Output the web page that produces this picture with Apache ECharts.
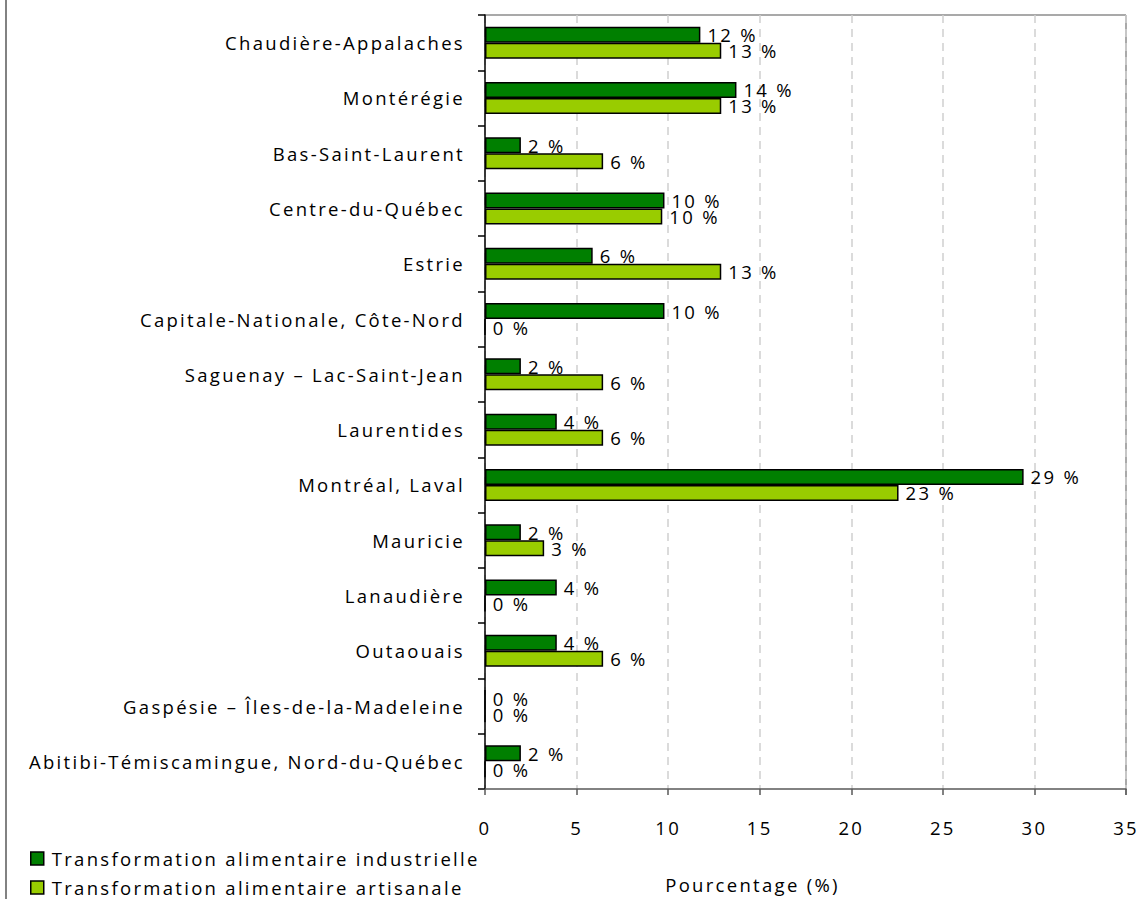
<!DOCTYPE html>
<html>
<head>
<meta charset="utf-8">
<script src="https://cdn.jsdelivr.net/npm/echarts@6/dist/echarts.min.js"></script>
<style>
  html, body { margin: 0; padding: 0; background: #fff; }
  #chart { width: 1143px; height: 899px; }
  /* texte espacé comme dans l'original */
  #chart text { letter-spacing: 2.3px; }
</style>
</head>
<body>
<div id="chart"></div>
<script>
// régions, de haut en bas
const categories = [
  'Chaudière-Appalaches',
  'Montérégie',
  'Bas-Saint-Laurent',
  'Centre-du-Québec',
  'Estrie',
  'Capitale-Nationale, Côte-Nord',
  'Saguenay – Lac-Saint-Jean',
  'Laurentides',
  'Montréal, Laval',
  'Mauricie',
  'Lanaudière',
  'Outaouais',
  'Gaspésie – Îles-de-la-Madeleine',
  'Abitibi-Témiscamingue, Nord-du-Québec'
]
const industrielle = [11.76, 13.73, 1.96, 9.8, 5.88, 9.8, 1.96, 3.92, 29.41, 1.96, 3.92, 3.92, 0, 1.96]
const artisanale = [12.9, 12.9, 6.45, 9.68, 12.9, 0, 6.45, 6.45, 22.58, 3.23, 0, 6.45, 0, 0]
const seriesNames = ['Transformation alimentaire industrielle', 'Transformation alimentaire artisanale']
const colors = ['#007f00', '#99cc00']

const font = 'Open Sans'
const fs = 18.5
const chart = echarts.init(document.getElementById('chart'), null, { renderer: 'svg' })

const pct = (p) => Math.round(p.value) + ' %'

chart.setOption({
  animation: false,
  color: colors,
  textStyle: { fontFamily: font },
  grid: { left: 485, top: 15, right: 17, bottom: 104, containLabel: false },
  legend: {
    orient: 'vertical',
    left: 30,
    top: 849,
    padding: 0,
    itemWidth: 13,
    itemHeight: 13,
    itemGap: 10,
    icon: 'rect',
    textStyle: { fontFamily: font, fontSize: fs, color: '#000', lineHeight: 16, padding: [0, 0, 0, 3] },
    itemStyle: { borderColor: '#000', borderWidth: 1.5 },
    data: seriesNames
  },
  xAxis: {
    type: 'value',
    min: 0,
    max: 35,
    interval: 5,
    name: 'Pourcentage (%)',
    nameLocation: 'middle',
    nameGap: 86,
    nameTextStyle: { fontFamily: font, fontSize: fs, color: '#000', padding: [0, 106, 0, 0] },
    axisLine: { show: true, lineStyle: { color: '#595959', width: 1.5 } },
    axisTick: { show: true, length: 6, lineStyle: { color: '#595959', width: 1.5 } },
    axisLabel: { fontFamily: font, fontSize: fs, color: '#000', margin: 29 },
    splitLine: { show: true, lineStyle: { color: '#d0d0d0', type: [8, 6], width: 1.5 } }
  },
  yAxis: {
    type: 'category',
    data: categories,
    inverse: true,
    axisLine: { lineStyle: { color: '#000', width: 1.5 } },
    axisTick: { show: true, length: 7, lineStyle: { color: '#000', width: 1.5 } },
    axisLabel: { fontFamily: font, fontSize: fs, color: '#000', margin: 20 }
  },
  graphic: [
    // cadre : haut et droite de la zone de tracé, bord gauche
    { type: 'line', shape: { x1: 485, y1: 15, x2: 1126, y2: 15 }, style: { stroke: '#8c8c8c', lineWidth: 1.5 } },
    { type: 'line', shape: { x1: 1126, y1: 15, x2: 1126, y2: 795 }, style: { stroke: '#8c8c8c', lineWidth: 1.5 } },
    { type: 'line', shape: { x1: 6, y1: 0, x2: 6, y2: 899 }, style: { stroke: '#595959', lineWidth: 1.5 } }
  ],
  series: [
    {
      name: seriesNames[0],
      type: 'bar',
      data: industrielle,
      barWidth: 16,
      barGap: '0%',
      itemStyle: { borderColor: '#000', borderWidth: 1.5 },
      label: { show: true, position: 'right', distance: 7, formatter: pct, fontFamily: font, fontSize: fs, color: '#000' }
    },
    {
      name: seriesNames[1],
      type: 'bar',
      data: artisanale,
      barWidth: 16,
      barGap: '0%',
      itemStyle: { borderColor: '#000', borderWidth: 1.5 },
      label: { show: true, position: 'right', distance: 7, formatter: pct, fontFamily: font, fontSize: fs, color: '#000' }
    }
  ]
})
</script>
</body>
</html>
